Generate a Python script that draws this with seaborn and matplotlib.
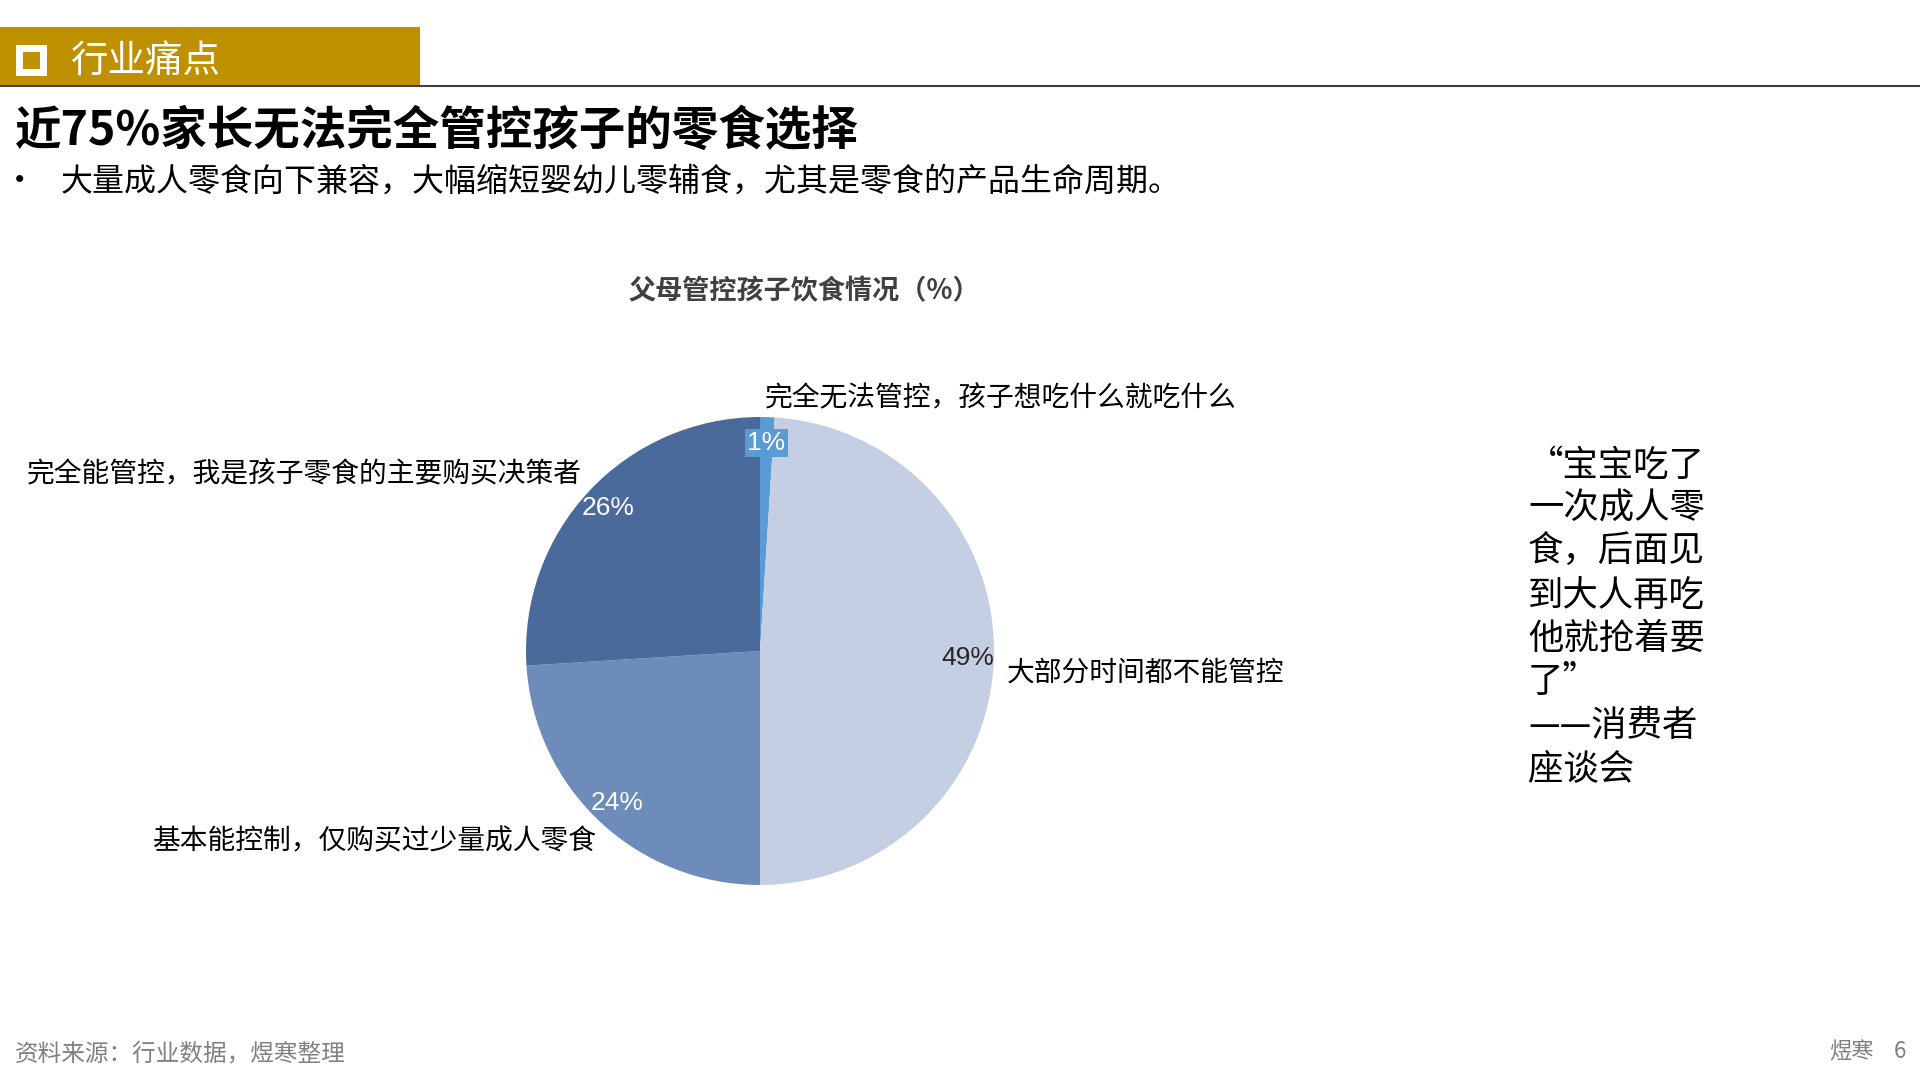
import matplotlib
matplotlib.use("Agg")
import matplotlib.pyplot as plt
import seaborn as sns

# ---------------- data ----------------
categories = [
    "完全无法管控，孩子想吃什么就吃什么",
    "大部分时间都不能管控",
    "基本能控制，仅购买过少量成人零食",
    "完全能管控，我是孩子零食的主要购买决策者",
]
values = [1, 49, 24, 26]
slice_colors = ["#5B9BD5", "#C5CFE3", "#6D8CBA", "#4A6A9B"]
pct_text_colors = ["white", "#262626", "white", "white"]

header_text = "行业痛点"
main_title = "近75%家长无法完全管控孩子的零食选择"
bullet_text = "大量成人零食向下兼容，大幅缩短婴幼儿零辅食，尤其是零食的产品生命周期。"
chart_title = "父母管控孩子饮食情况（%）"
quote_lines = ["“宝宝吃了", "一次成人零", "食，后面见", "到大人再吃", "他就抢着要", "了”", "——消费者", "座谈会"]
footer_left = "资料来源：行业数据，煜寒整理"
footer_right = "煜寒"
page_no = "6"

# ---------------- style ----------------
sns.set_theme(style="white")
plt.rcParams["font.family"] = ["Noto Sans CJK SC", "DejaVu Sans"]

W, H = 1920, 1080
fig = plt.figure(figsize=(W / 100, H / 100), dpi=100)
fig.patch.set_facecolor("white")


def fx(px):
    return px / W


def fy(py):
    return 1 - py / H


# header bar
fig.patches.append(plt.Rectangle((0, fy(86)), fx(420), (86 - 27) / H,
                                 transform=fig.transFigure, facecolor="#BF9000",
                                 edgecolor="none", zorder=1))
fig.lines.append(plt.Line2D([0, 1], [fy(86), fy(86)], transform=fig.transFigure,
                            color="#404040", linewidth=1.5, zorder=2))
# white square icon
fig.patches.append(plt.Rectangle((fx(19), fy(72)), fx(24), 24 / H,
                                 transform=fig.transFigure, facecolor="none",
                                 edgecolor="white", linewidth=5, zorder=3))
fig.text(fx(70), fy(62), header_text, color="white", fontsize=27,
         ha="left", va="center", zorder=4)

# titles
fig.text(fx(15), fy(131), main_title, fontsize=33.5, fontweight="bold",
         color="black", ha="left", va="center")
fig.text(fx(20), fy(182), "•", fontsize=24, color="black", ha="center", va="center")
fig.text(fx(61), fy(182), bullet_text, fontsize=23, color="black",
         ha="left", va="center")
fig.text(fx(804), fy(291), chart_title, fontsize=19.5, fontweight="bold",
         color="#404040", ha="center", va="center")

# ---------------- pie ----------------
cx, cy, r = 760, 651, 234
ax = fig.add_axes([fx(cx - r), fy(cy + r), 2 * r / W, 2 * r / H])
wedges, _texts, autotexts = ax.pie(
    values, colors=slice_colors, startangle=90, counterclock=False,
    autopct="%d%%", pctdistance=0.89, radius=1,
    wedgeprops=dict(linewidth=0),
    textprops=dict(fontsize=19, family=["Liberation Sans", "DejaVu Sans"]),
)
for t, c in zip(autotexts, pct_text_colors):
    t.set_color(c)
autotexts[0].set_bbox(dict(facecolor=slice_colors[0], edgecolor="none", pad=1.5))
ax.set_xlim(-1, 1)
ax.set_ylim(-1, 1)
ax.set_aspect("equal")
ax.axis("off")


def to_data(px, py):
    return (px - cx) / r, (cy - py) / r


label_pos = [
    (to_data(765, 398), "left"),
    (to_data(1007, 673), "left"),
    (to_data(596, 841), "right"),
    (to_data(582, 474), "right"),
]
for name, ((lx, ly), ha) in zip(categories, label_pos):
    ax.text(lx, ly, name, fontsize=20, color="black", ha=ha, va="center",
            clip_on=False)

# ---------------- quote ----------------
quote_y = [466, 509, 552, 596, 639, 682, 726, 769]
for line, y in zip(quote_lines, quote_y):
    fig.text(fx(1528), fy(y), line, fontsize=25.5, color="black",
             ha="left", va="center")

# ---------------- footer ----------------
fig.text(fx(15), fy(1054), footer_left, fontsize=17, color="#808080",
         ha="left", va="center")
fig.text(fx(1874), fy(1052), footer_right, fontsize=16, color="#808080",
         ha="right", va="center")
fig.text(fx(1906), fy(1052), page_no, fontsize=16, color="#808080",
         ha="right", va="center")

fig.savefig("out.png", dpi=100, facecolor="white")
